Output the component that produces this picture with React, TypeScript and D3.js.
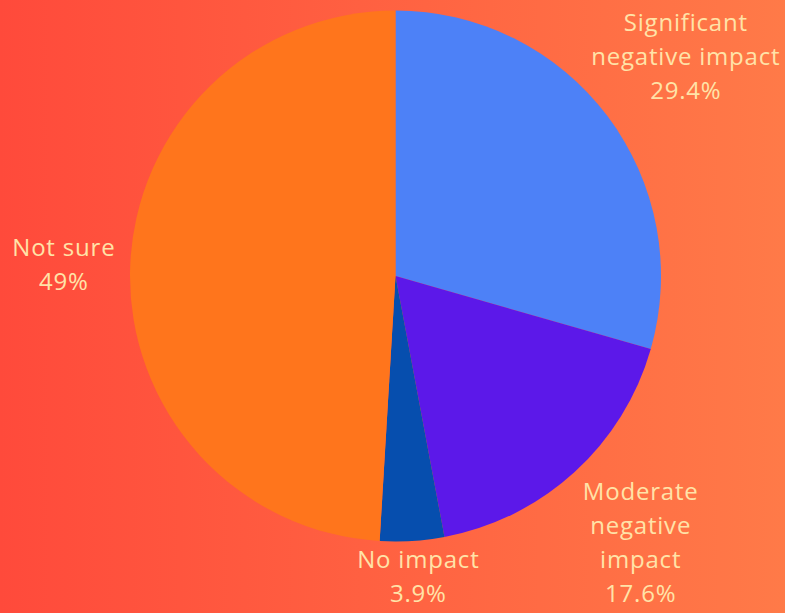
import React from "react";
import * as d3 from "d3";

const categories = ["Significant negative impact", "Moderate negative impact", "No impact", "Not sure"];
const labelLines = [["Significant", "negative impact"], ["Moderate", "negative", "impact"], ["No impact"], ["Not sure"]];
const percentLabels = ["29.4%", "17.6%", "3.9%", "49%"];
const values = [29.4, 17.6, 3.9, 49];
const colors = ["#4d81f7", "#5c18e9", "#064eae", "#ff751c"];

const W = 785;
const H = 613;
const cx = 395.5;
const cy = 276;
const R = 265.5;
const fontSize = 24;
const lineH = 34;

export default function App() {
  React.useEffect(() => {
    document.body.style.margin = "0";
  }, []);
  const pie = d3.pie<number>().sort(null).value((d) => d)(values);
  const arc = d3.arc<d3.PieArcDatum<number>>().innerRadius(0).outerRadius(R);
  const labelArc = d3.arc<d3.PieArcDatum<number>>().innerRadius(364).outerRadius(364);

  return (
    <svg width={W} height={H} style={{ display: "block" }} fontFamily="'Open Sans', sans-serif">
      <defs>
        <linearGradient id="bg" x1="0" y1="0" x2="1" y2="0">
          <stop offset="0" stopColor="#ff4a3b" />
          <stop offset="1" stopColor="#ff7a48" />
        </linearGradient>
      </defs>
      <rect width={W} height={H} fill="url(#bg)" />
      <g transform={`translate(${cx},${cy})`}>
        {pie.map((p, i) => (
          <path key={categories[i]} d={arc(p) || ""} fill={colors[i]} />
        ))}
      </g>
      {pie.map((p, i) => {
        const [lx, ly] = labelArc.centroid(p);
        const lines = [...labelLines[i], percentLabels[i]];
        const maxLen = d3.max(lines, (l) => l.length) || 0;
        const estW = maxLen * fontSize * 0.54;
        const blockH = lines.length * lineH;
        let x = cx + lx;
        let y = cy + ly;
        x = Math.max(estW / 2 + 12, Math.min(W - estW / 2 - 2, x));
        y = Math.max(blockH / 2 + 2, Math.min(H - blockH / 2 - 2, y));
        const top = y - blockH / 2;
        return (
          <text key={"l" + i} textAnchor="middle" fill="#ffe3a8" fontSize={fontSize} letterSpacing={0.8}>
            {lines.map((l, j) => (
              <tspan key={j} x={x} y={top + lineH * j + lineH * 0.74}>
                {l}
              </tspan>
            ))}
          </text>
        );
      })}
    </svg>
  );
}
